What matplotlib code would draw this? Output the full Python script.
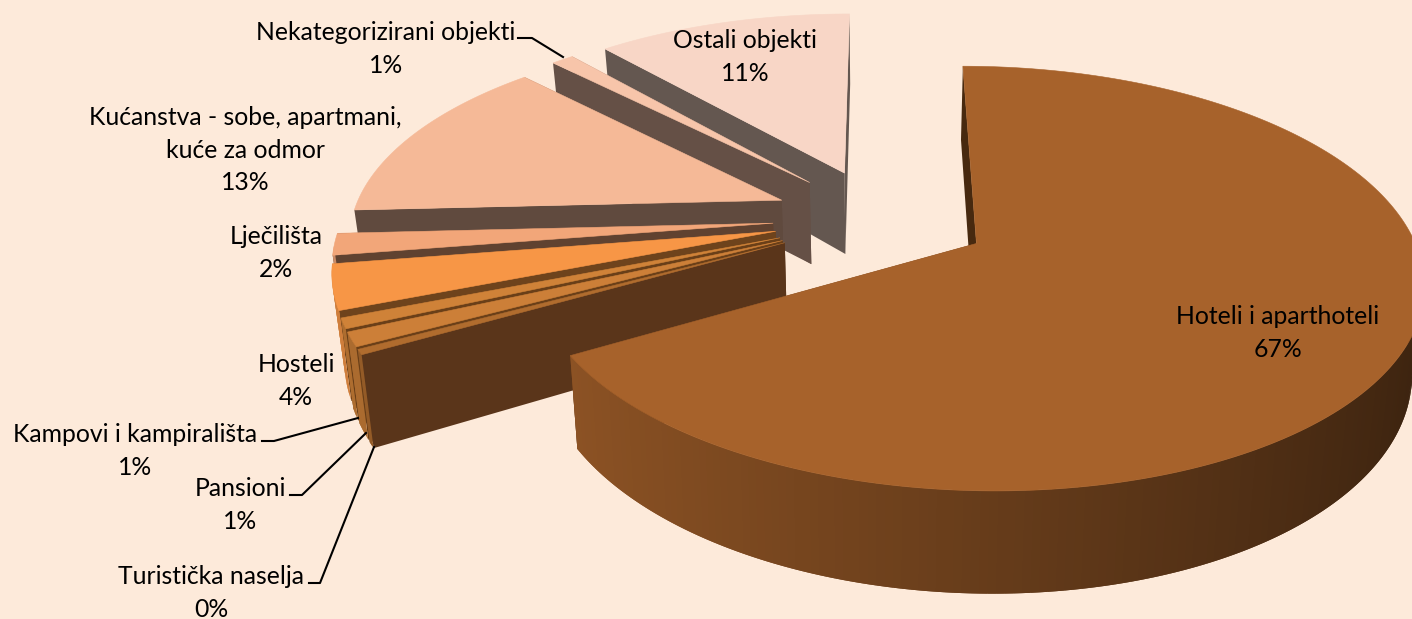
import numpy as np
import matplotlib
matplotlib.use("Agg")
import matplotlib.pyplot as plt
from matplotlib.colors import to_rgb
from matplotlib.patches import Polygon

# slices, clockwise from twelve o'clock
names = ["Hoteli i aparthoteli", "Turistička naselja", "Pansioni", "Kampovi i kampirališta",
         "Hosteli", "Lječilišta", "Kućanstva - sobe, apartmani,\nkuće za odmor",
         "Nekategorizirani objekti", "Ostali objekti"]
values = [66.7, 0.4, 1.1, 0.8, 3.5, 1.7, 13.4, 1.0, 11.4]
top_colors = ["#A7622B", "#B06C2E", "#CC7F38", "#CF8238", "#F79646", "#F2A679", "#F5B997", "#F7C5AA", "#F8D6C6"]
cut_colors = ["#47290F", "#5A351A", "#6A3F18", "#6A3F18", "#6E431C", "#604230", "#604A3E", "#655046", "#645750"]

label_pos = [(1278, 333), (211, 593), (240, 505), (135, 451), (296, 381), (276, 253), (245, 150), (386, 49), (745, 57)]
# leader lines for the labels sitting outside the pie
leaders = {
    1: [(309, 583), (320, 583), (374, 447)],
    2: [(290, 495), (302, 495), (366, 433)],
    3: [(262, 441), (274, 441), (358, 418)],
    7: [(518, 38), (532, 38), (563, 57)],
}

# projection settings
cx, cy = 881, 218
radius = 430
explode = 108
squash = 0.461
persp = 0.162
depth = 84
shrink = 0.977
bg = "#FDEADA"


def project(u, v, low=False):
    k = 1 / (1 + persp * v / radius)
    if low:
        return cx + u * k * shrink, cy - squash * v * k + depth * k
    return cx + u * k, cy - squash * v * k


def shade(color, f):
    return tuple(c * f for c in to_rgb(color))


fig = plt.figure(figsize=(14.12, 6.19), dpi=100, facecolor=bg)
ax = fig.add_axes([0, 0, 1, 1])
ax.set_xlim(0, 1412)
ax.set_ylim(619, 0)
ax.axis("off")

edges = np.cumsum([0] + values) / sum(values) * 2 * np.pi
slices = []
for i in range(len(values)):
    t0, t1 = edges[i], edges[i + 1]
    mid = (t0 + t1) / 2
    slices.append((i, t0, t1, explode * np.sin(mid), explode * np.cos(mid)))

# back slices first, Hoteli goes on last
for i, t0, t1, du, dv in slices[:0:-1] + [slices[0]]:
    ts = np.linspace(t0, t1, max(int((t1 - t0) * 60), 4))
    u = du + radius * np.sin(ts)
    v = dv + radius * np.cos(ts)
    top = [project(a, b) for a, b in zip(u, v)]
    low = [project(a, b, True) for a, b in zip(u, v)]
    apex = project(du, dv)
    apex_low = project(du, dv, True)

    # the two cut faces
    ax.add_patch(Polygon([apex, top[-1], low[-1], apex_low], fc=cut_colors[i], ec="none"))
    ax.add_patch(Polygon([apex, top[0], low[0], apex_low], fc=cut_colors[i], ec="none"))
    # outer wall in strips, each one overlaps the next so no seams show
    for j in range(len(ts) - 1):
        if np.cos(ts[j]) > -0.15 and i > 0:
            continue
        if np.cos(ts[j]) > 0.03:
            continue
        f = 0.84 - 0.26 * (np.sin(ts[j]) + 0.875) if i == 0 else 0.84
        c = shade(top_colors[i], f)
        jj = min(j + 2, len(ts) - 1)
        ax.add_patch(Polygon([top[j], top[jj], low[jj], low[j]], fc=c, ec="none"))
    ax.add_patch(Polygon([apex] + top, fc=top_colors[i], ec=top_colors[i], lw=0.4))

for i, v in enumerate(values):
    ax.text(label_pos[i][0], label_pos[i][1], f"{names[i]}\n{round(v)}%", ha="center", va="center",
            fontsize=17.8, family="Lato", color="black", linespacing=1.5, zorder=10)

for pts in leaders.values():
    ax.plot([p[0] for p in pts], [p[1] for p in pts], color="black", lw=1.5, zorder=9)

fig.savefig("out.png", dpi=100, facecolor=bg)
